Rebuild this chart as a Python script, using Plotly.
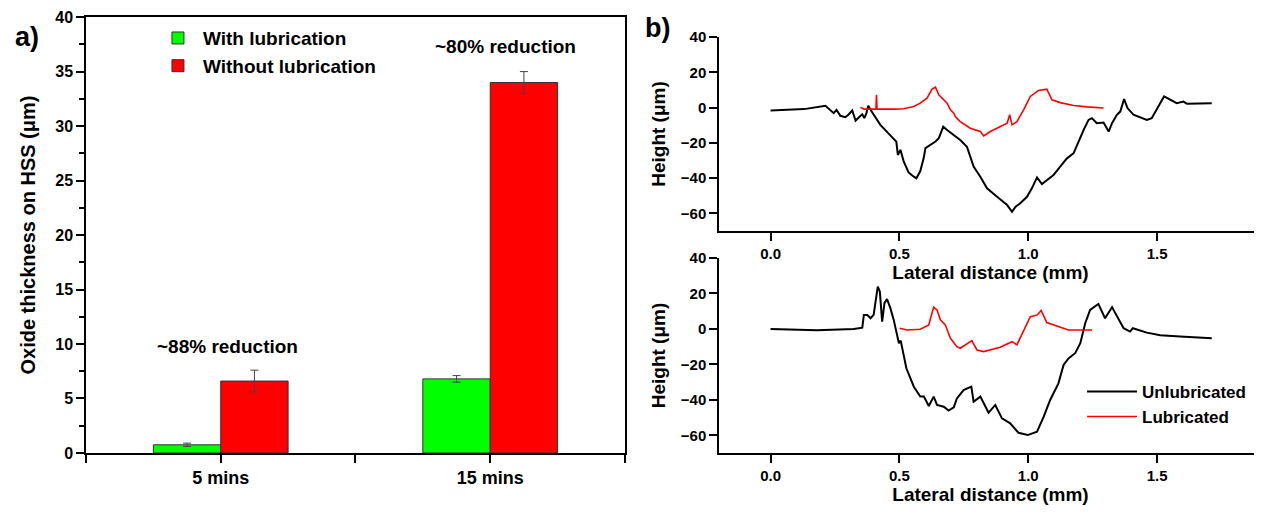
import plotly.graph_objects as go

# Panel a) oxide thickness
times = ["5 mins", "15 mins"]
time_pos = [1, 2]
with_lub = [0.75, 6.8]
with_lub_err = [0.15, 0.3]
without_lub = [6.6, 34.0]
without_lub_err = [1.0, 1.0]
reductions = ["~88% reduction", "~80% reduction"]
reduction_y = [9.8, 37.3]

# Panel b) profiles, top
top_unlub_x = [0, 0.13, 0.213, 0.233, 0.245, 0.256, 0.271, 0.29, 0.302, 0.317, 0.33, 0.343, 0.356, 0.364,
               0.372, 0.379, 0.388, 0.426, 0.459, 0.478, 0.488, 0.494, 0.504, 0.517, 0.536, 0.556, 0.566,
               0.581, 0.594, 0.601, 0.62, 0.64, 0.653, 0.67, 0.685, 0.736, 0.762, 0.788, 0.814, 0.84, 0.879,
               0.918, 0.937, 0.95, 0.969, 0.995, 1.014, 1.034, 1.053, 1.079, 1.098, 1.124, 1.15, 1.176,
               1.195, 1.215, 1.234, 1.247, 1.266, 1.292, 1.312, 1.325, 1.344, 1.357, 1.372, 1.385, 1.408,
               1.434, 1.46, 1.479, 1.499, 1.512, 1.527, 1.55, 1.576, 1.602, 1.616, 1.712]
top_unlub_y = [-1.7, -0.9, 1.0, -1.3, -3.2, -1.3, -4.7, -5.5, -4.1, -1.7, -7.4, -5.5, -3.8, -6.0,
               -3.2, 1.0, -1.3, -9.8, -14.6, -17.4, -19.3, -26.9, -24.0, -30.7, -36.9, -39.2, -40.1,
               -36.0, -28.8, -23.0, -21.2, -19.3, -17.4, -10.8, -12.7, -18.4, -22.2, -33.5, -39.2, -45.8, -50.6,
               -55.3, -59.1, -56.3, -54.3, -50.6, -45.8, -39.6, -43.4, -40.1, -38.2, -33.5, -28.8, -25.9,
               -19.3, -12.7, -7.0, -6.0, -8.9, -8.5, -13.6, -8.9, -4.1, -2.3, 4.8, -0.3, -4.1,
               -5.5, -7.0, -6.0, -1.3, 2.5, 6.3, 4.4, 2.5, 3.4, 2.1, 2.5]
top_lub_x = [0.349, 0.363, 0.407, 0.409, 0.411, 0.413, 0.478, 0.517, 0.556, 0.581, 0.607, 0.627, 0.64,
             0.653, 0.685, 0.698, 0.711, 0.717, 0.736, 0.775, 0.814, 0.827, 0.853, 0.891, 0.918, 0.928,
             0.937, 0.956, 0.982, 1.008, 1.04, 1.072, 1.092, 1.124, 1.176, 1.228, 1.292]
top_lub_y = [0.2, -0.9, -0.9, -0.9, 7.2, -0.9, -0.9, -0.7, 0.6, 2.5, 5.3, 10.4, 11.6,
             7.2, 2.5, -1.3, -3.2, -5.1, -8.0, -11.7, -13.6, -16.1, -13.6, -10.8, -8.9, -4.1,
             -9.8, -8.0, -1.3, 6.3, 9.7, 10.4, 4.4, 2.8, 1.2, 0.4, -0.3]

# Panel b) profiles, bottom
bot_unlub_x = [0, 0.18, 0.323, 0.356, 0.362, 0.375, 0.388, 0.4, 0.416, 0.424, 0.433, 0.442, 0.452, 0.465,
               0.478, 0.498, 0.505, 0.527, 0.556, 0.581, 0.595, 0.614, 0.633, 0.646, 0.672, 0.691, 0.711,
               0.723, 0.749, 0.779, 0.788, 0.814, 0.846, 0.872, 0.898, 0.93, 0.962, 0.998, 1.034, 1.06,
               1.085, 1.117, 1.137, 1.156, 1.182, 1.202, 1.221, 1.24, 1.272, 1.298, 1.325, 1.344, 1.37,
               1.395, 1.406, 1.46, 1.512, 1.589, 1.712]
bot_unlub_y = [0, -0.7, 0, 0.7, 7.9, 7.9, 6.0, 7.9, 23.9, 21.1, 4.1, 14.5, 16.8, 11.7,
               5.1, -8.1, -6.6, -22.2, -32.6, -38.2, -38.2, -43.5, -38.2, -42.9, -43.9, -46.1, -44.2,
               -39.2, -34.5, -32.6, -41.1, -38.2, -47.3, -42.9, -50.5, -53.3, -58.6, -59.9, -58.0, -49.5,
               -40.1, -30.7, -20.3, -16.6, -13.7, -8.1, 3.2, 10.7, 14.1, 6.0, 12.3, 6.9, 0.4,
               -1.5, 0.4, -2.1, -3.6, -4.3, -5.3]
bot_lub_x = [0.501, 0.53, 0.581, 0.614, 0.633, 0.646, 0.659, 0.678, 0.698, 0.723, 0.736, 0.756, 0.781,
             0.801, 0.827, 0.891, 0.937, 0.956, 0.982, 1.008, 1.035, 1.05, 1.072, 1.111, 1.156, 1.247]
bot_lub_y = [0.4, -0.6, -0.2, 2.3, 12.3, 10.7, 5.1, 2.3, -5.3, -10.0, -10.9, -9.0, -6.6,
             -11.9, -12.8, -10.3, -7.2, -9.0, -0.6, 6.9, 7.9, 10.4, 3.6, 1.7, -0.6, -0.6]

FONT = "Liberation Sans"


def bf(size):
    return dict(family=FONT, size=size, color="black", weight="bold")


fig = go.Figure()

fig.add_trace(go.Bar(
    x=time_pos, y=with_lub, name="With lubrication", marker=dict(color="#00ff00", line=dict(color="#333", width=1)),
    error_y=dict(type="data", array=with_lub_err, color="#444", thickness=1, width=4),
    xaxis="x", yaxis="y", legend="legend"))
fig.add_trace(go.Bar(
    x=time_pos, y=without_lub, name="Without lubrication", marker=dict(color="#ff0000", line=dict(color="#333", width=1)),
    error_y=dict(type="data", array=without_lub_err, color="#444", thickness=1, width=4),
    xaxis="x", yaxis="y", legend="legend"))

fig.add_trace(go.Scatter(x=top_unlub_x, y=top_unlub_y, mode="lines", line=dict(color="black", width=2),
                         xaxis="x2", yaxis="y2", showlegend=False))
fig.add_trace(go.Scatter(x=top_lub_x, y=top_lub_y, mode="lines", line=dict(color="red", width=1.6),
                         xaxis="x2", yaxis="y2", showlegend=False))
fig.add_trace(go.Scatter(x=bot_unlub_x, y=bot_unlub_y, mode="lines", line=dict(color="black", width=2),
                         name="Unlubricated", xaxis="x3", yaxis="y3", legend="legend2"))
fig.add_trace(go.Scatter(x=bot_lub_x, y=bot_lub_y, mode="lines", line=dict(color="red", width=1.6),
                         name="Lubricated", xaxis="x3", yaxis="y3", legend="legend2"))

# the labels sit a little right of the category centre
for t, p, y, dx in zip(reductions, time_pos, reduction_y, [7, 15]):
    fig.add_annotation(x=p, y=y, xref="x", yref="y", text=t, showarrow=False, font=bf(19), xshift=dx)

fig.add_annotation(x=0.004, y=0.943, xref="paper", yref="paper", text="a)", showarrow=False,
                   xanchor="left", yanchor="middle", font=bf(27))
fig.add_annotation(x=0.5064, y=0.96, xref="paper", yref="paper", text="b)", showarrow=False,
                   xanchor="left", yanchor="middle", font=bf(27))

axis_common = dict(showline=True, linecolor="black", linewidth=1.5, ticks="outside", tickcolor="black",
                   tickwidth=1.5, ticklen=8, showgrid=False, zeroline=False, automargin=False)

# page body adds an 8px margin, so the figure is 1254x506
fig.update_layout(
    width=1254, height=506,
    margin=dict(l=0, r=0, t=0, b=0),
    paper_bgcolor="white", plot_bgcolor="white",
    barmode="group", bargap=0.5, bargroupgap=0,
    xaxis=dict(domain=[0.0622, 0.492], range=[0.5, 2.5], tickvals=[0.5, 1, 1.5, 2, 2.5],
               ticktext=["", times[0], "", times[1], ""], mirror=True, anchor="y",
               tickfont=bf(18), **axis_common),
    yaxis=dict(domain=[0.1206, 0.982], range=[0, 40], dtick=5, mirror=True, anchor="x",
               minor=dict(dtick=2.5, ticks="outside", ticklen=5, tickcolor="black"),
               tickfont=bf(16),
               title=dict(text="Oxide thickness on HSS (μm)", font=bf(20), standoff=14), **axis_common),
    xaxis2=dict(domain=[0.567, 1.0], range=[-0.2, 1.907], tickvals=[0, 0.5, 1.0, 1.5],
                tickformat=".1f", anchor="y2", tickfont=bf(15),
                title=dict(text="Lateral distance (mm)", font=bf(19), standoff=3), **axis_common),
    yaxis2=dict(domain=[0.5593, 0.9427], range=[-70, 40], tickvals=[-60, -40, -20, 0, 20, 40], anchor="x2",
                tickfont=bf(15),
                title=dict(text="Height (μm)", font=bf(19), standoff=10), **axis_common),
    xaxis3=dict(domain=[0.567, 1.0], range=[-0.2, 1.907], tickvals=[0, 0.5, 1.0, 1.5],
                tickformat=".1f", anchor="y3", tickfont=bf(15),
                title=dict(text="Lateral distance (mm)", font=bf(19), standoff=3), **axis_common),
    yaxis3=dict(domain=[0.1206, 0.5059], range=[-70, 40], tickvals=[-60, -40, -20, 0, 20, 40], anchor="x3",
                tickfont=bf(15),
                title=dict(text="Height (μm)", font=bf(19), standoff=10), **axis_common),
    legend=dict(x=0.1156, y=0.978, xanchor="left", yanchor="top", font=bf(19), bgcolor="rgba(0,0,0,0)",
                itemwidth=40, tracegroupgap=0),
    legend2=dict(x=0.8565, y=0.277, xanchor="left", yanchor="top", font=bf(17), bgcolor="rgba(0,0,0,0)",
                 itemwidth=50),
)

fig.write_html("out.html")
